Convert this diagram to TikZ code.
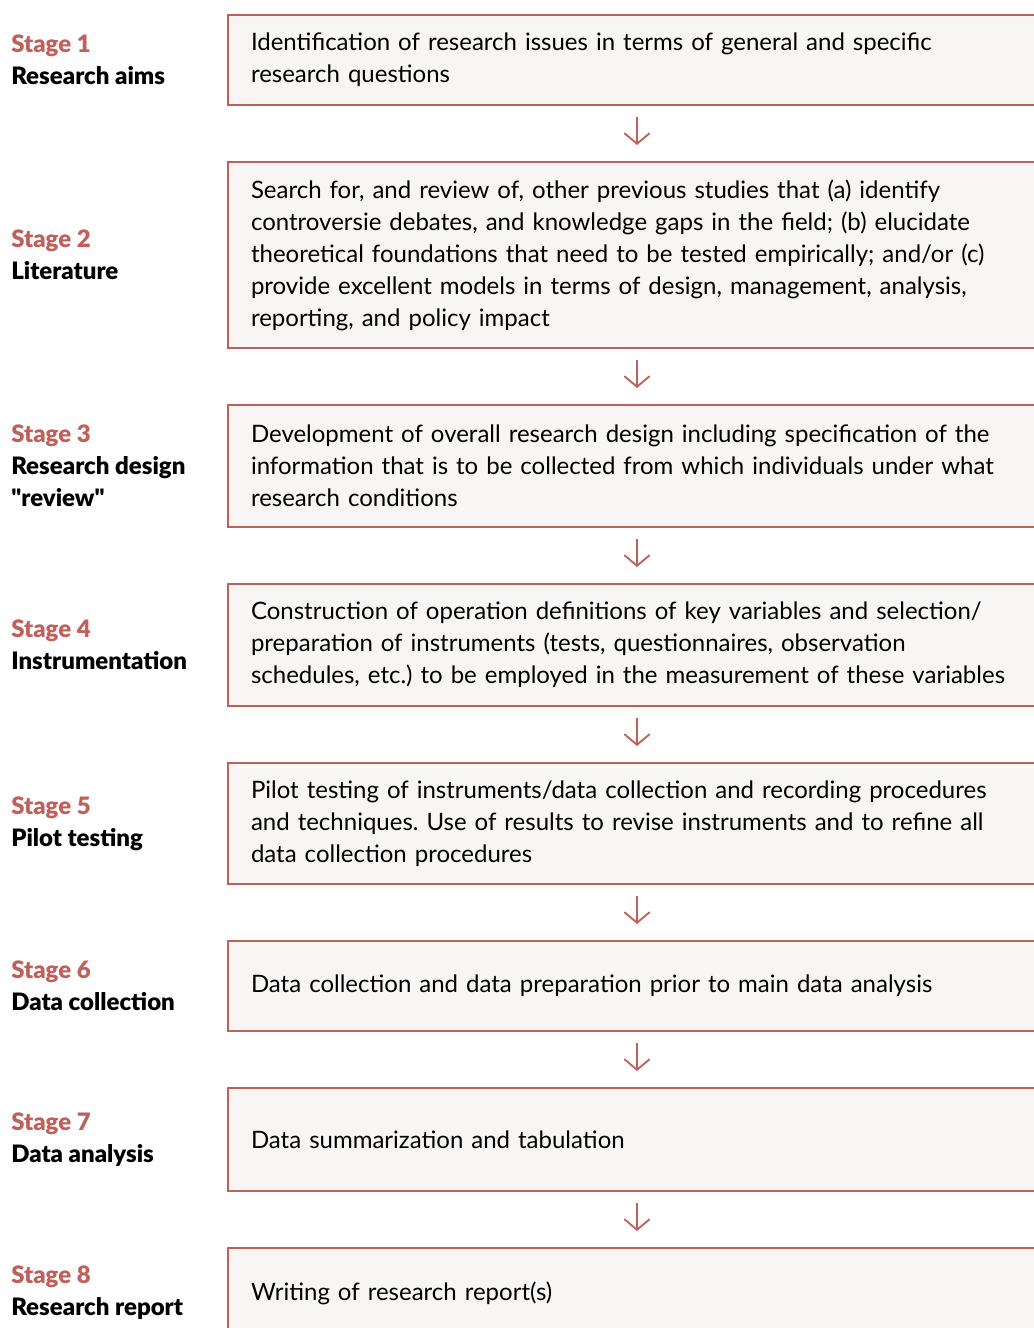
\documentclass[tikz,border=0pt]{standalone}
\usepackage{fontspec}
\setmainfont{Lato}
\newfontfamily\stagefont{Lato Black}
\usetikzlibrary{positioning,arrows.meta}
\definecolor{stagered}{HTML}{C0605A}
\definecolor{boxfill}{HTML}{F7F6F5}
\tikzset{
  stepbox/.style={draw=stagered, line width=1.5pt, fill=boxfill, text width=575pt,
    inner xsep=17.25pt, align=left, font=\fontsize{18}{24}\selectfont},
  stagelbl/.style={anchor=west, align=left, inner sep=0pt, font=\stagefont\fontsize{18}{24}\selectfont},
  flow/.style={draw=stagered, line width=1.4pt, -{Straight Barb[length=8pt,width=19pt]},
    shorten <=8pt, shorten >=12pt}
}
\frenchspacing

\begin{document}
\begin{tikzpicture}[x=0.75pt,y=-0.75pt, node distance=41.25pt]
  \useasboundingbox (0,0) rectangle (1033,1328);
  \coordinate (lx) at (11,0);
  \coordinate (ax) at (637,0);

  % Nodes
  \node[stepbox, anchor=north west, minimum height=67.5pt] (b1) at (227,14)
    {Identification of research issues in terms of general and specific\\research questions};
  \node[stepbox, below = of b1, minimum height=139.5pt] (b2)
    {Search for, and review of, other previous studies that (a) identify\\
     controversie debates, and knowledge gaps in the field; (b) elucidate\\
     theoretical foundations that need to be tested empirically; and/or (c)\\
     provide excellent models in terms of design, management, analysis,\\
     reporting, and policy impact};
  \node[stepbox, below = of b2, minimum height=91.5pt] (b3)
    {Development of overall research design including specification of the\\
     information that is to be collected from which individuals under what\\
     research conditions};
  \node[stepbox, below = of b3, minimum height=91.5pt] (b4)
    {Construction of operation definitions of key variables and selection/\\
     preparation of instruments (tests, questionnaires, observation\\
     schedules, etc.) to be employed in the measurement of these variables};
  \node[stepbox, below = of b4, minimum height=90.75pt] (b5)
    {Pilot testing of instruments/data collection and recording procedures\\
     and techniques. Use of results to revise instruments and to refine all\\
     data collection procedures};
  \node[stepbox, below = of b5, minimum height=67.5pt] (b6)
    {Data collection and data preparation prior to main data analysis};
  \node[stepbox, below = of b6, minimum height=77.25pt] (b7)
    {Data summarization and tabulation};
  \node[stepbox, below = of b7, minimum height=67.5pt] (b8)
    {Writing of research report(s)};

  \node[stagelbl] (s1) at (lx |- b1.center) {\textcolor{stagered}{Stage 1}\\Research aims};
  \node[stagelbl] (s2) at (lx |- b2.center) {\textcolor{stagered}{Stage 2}\\Literature};
  \node[stagelbl] (s3) at (lx |- b3.center) {\textcolor{stagered}{Stage 3}\\Research design\\\symbol{34}review\symbol{34}};
  \node[stagelbl] (s4) at (lx |- b4.center) {\textcolor{stagered}{Stage 4}\\Instrumentation};
  \node[stagelbl] (s5) at (lx |- b5.center) {\textcolor{stagered}{Stage 5}\\Pilot testing};
  \node[stagelbl] (s6) at (lx |- b6.center) {\textcolor{stagered}{Stage 6}\\Data collection};
  \node[stagelbl] (s7) at (lx |- b7.center) {\textcolor{stagered}{Stage 7}\\Data analysis};
  \node[stagelbl] (s8) at (lx |- b8.center) {\textcolor{stagered}{Stage 8}\\Research report};

  % Edges
  \draw[flow] (b1.south -| ax) -- (b2.north -| ax);
  \draw[flow] (b2.south -| ax) -- (b3.north -| ax);
  \draw[flow] (b3.south -| ax) -- (b4.north -| ax);
  \draw[flow] (b4.south -| ax) -- (b5.north -| ax);
  \draw[flow] (b5.south -| ax) -- (b6.north -| ax);
  \draw[flow] (b6.south -| ax) -- (b7.north -| ax);
  \draw[flow] (b7.south -| ax) -- (b8.north -| ax);
\end{tikzpicture}
\end{document}
